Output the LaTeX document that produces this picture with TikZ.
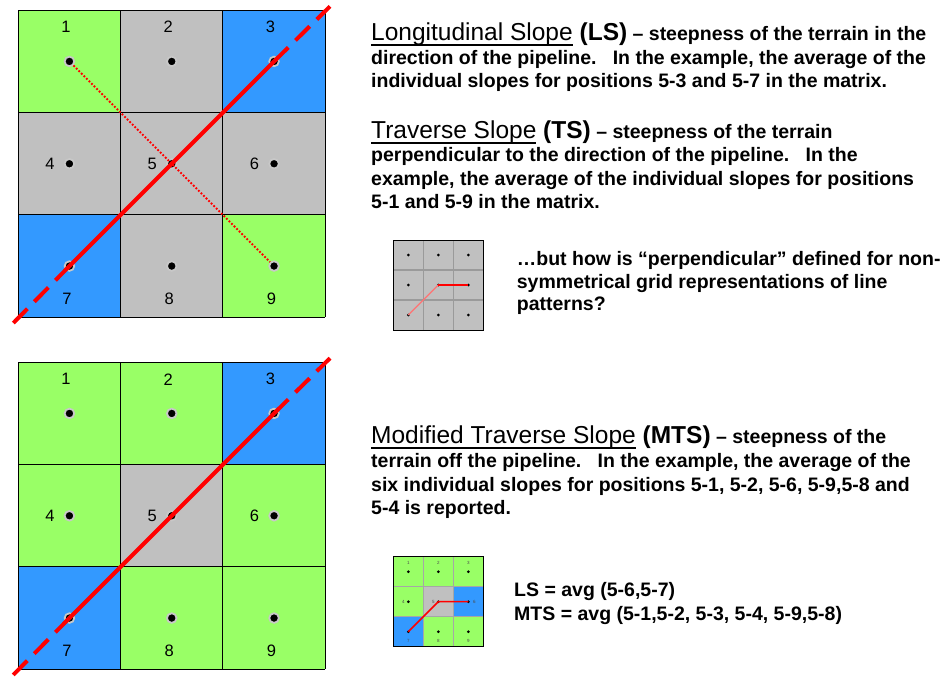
\documentclass[tikz,border=0pt]{standalone}
\usepackage{fontspec}
\setmainfont{Liberation Sans}
\definecolor{cgreen}{HTML}{99FF66}
\definecolor{cgray}{HTML}{C0C0C0}
\definecolor{cblue}{HTML}{3399FF}
\definecolor{chalo}{HTML}{C8C8C8}
\definecolor{cred}{HTML}{FF0000}
\definecolor{cline}{HTML}{9A9A9A}
\newcommand\ulbox[1]{\setbox0\hbox{#1}\rlap{\rule[-5.5pt]{\wd0}{1.5pt}}\box0\relax}
\newcommand\ttl[2]{{\fontsize{24.5}{26}\selectfont\mdseries\ulbox{#1} \bfseries(#2)}}
\begin{document}
\begin{tikzpicture}[x=1pt,y=-1pt,
  body/.style={anchor=base west, inner sep=0pt, font=\fontsize{19.5}{22}\selectfont\bfseries},
  cellnum/.style={inner sep=0pt, font=\fontsize{16.5}{18}\selectfont},
  tinynum/.style={inner sep=0pt, font=\fontsize{4.5}{5}\selectfont, text=black!70},
  dot/.style={circle, fill=black, draw=chalo, line width=1.8pt, minimum size=9.6pt, inner sep=0pt},
  sdot/.style={circle, fill=black, minimum size=3pt, inner sep=0pt},
  pipe/.style={cred, line width=4pt},
  pipedash/.style={cred, line width=4pt, dash pattern=on 20pt off 10pt},
  trav/.style={cred, line width=2pt, dash pattern=on 1.8pt off 1.8pt},
  gridline/.style={black, line width=1pt},
  sline/.style={cred, line width=1.3pt},
]
\useasboundingbox[fill=white] (0,0) rectangle (950,677);

% ---------------- top big grid ----------------
\foreach \c [count=\i from 0] in {cgreen,cgray,cblue,cgray,cgray,cgray,cblue,cgray,cgreen}{
  \pgfmathtruncatemacro\cc{mod(\i,3)}
  \pgfmathtruncatemacro\rr{\i/3}
  \fill[\c] ({18.3+\cc*102.3},{10.3+\rr*102.3}) rectangle ++(102.3,102.3);
}
\foreach \k in {0,1,2,3}{
  \draw[gridline] ({18.3+\k*102.3},10.3) -- ++(0,306.9);
  \draw[gridline] (18.3,{10.3+\k*102.3}) -- ++(306.9,0);
}
\foreach \i in {1,...,9}{
  \pgfmathtruncatemacro\cc{mod(\i-1,3)}
  \pgfmathtruncatemacro\rr{(\i-1)/3}
  \node[dot] (t\i) at ({69.45+\cc*102.3},{61.45+\rr*102.3}) {};
}
\foreach \i in {1,2,3}{\node[cellnum] (tl\i) at ([shift={(-3.5,-34.8)}]t\i.center) {\i};}
\foreach \i in {4,5,6}{\node[cellnum] (tl\i) at ([shift={(-19.5,0)}]t\i.center) {\i};}
\foreach \i in {7,8,9}{\node[cellnum] (tl\i) at ([shift={(-2.5,32.5)}]t\i.center) {\i};}
\coordinate (tne) at (330,6.4);
\coordinate (tsw) at (10,326.4);
\draw[trav] (t1) -- (t9);
\draw[pipe] (t7.center) -- (t3.center);
\draw[pipedash] (t3.center) -- (tne);
\draw[pipedash] (t7.center) -- (tsw);

% ---------------- bottom big grid ----------------
\foreach \c [count=\i from 0] in {cgreen,cgreen,cblue,cgreen,cgray,cgreen,cblue,cgreen,cgreen}{
  \pgfmathtruncatemacro\cc{mod(\i,3)}
  \pgfmathtruncatemacro\rr{\i/3}
  \fill[\c] ({18.3+\cc*102.3},{362.3+\rr*102.3}) rectangle ++(102.3,102.3);
}
\foreach \k in {0,1,2,3}{
  \draw[gridline] ({18.3+\k*102.3},362.3) -- ++(0,306.9);
  \draw[gridline] (18.3,{362.3+\k*102.3}) -- ++(306.9,0);
}
\foreach \i in {1,...,9}{
  \pgfmathtruncatemacro\cc{mod(\i-1,3)}
  \pgfmathtruncatemacro\rr{(\i-1)/3}
  \node[dot] (b\i) at ({69.45+\cc*102.3},{413.45+\rr*102.3}) {};
}
\foreach \i in {1,2,3}{\node[cellnum] (bl\i) at ([shift={(-3.5,-34.2)}]b\i.center) {\i};}
\foreach \i in {4,5,6}{\node[cellnum] (bl\i) at ([shift={(-19.5,0)}]b\i.center) {\i};}
\foreach \i in {7,8,9}{\node[cellnum] (bl\i) at ([shift={(-2.5,33)}]b\i.center) {\i};}
\coordinate (bne) at (330,358.2);
\coordinate (bsw) at (10,678.2);
\draw[pipe] (b7.center) -- (b3.center);
\draw[pipedash] (b3.center) -- (bne);
\draw[pipedash] (b7.center) -- (bsw);

% ---------------- top small grid ----------------
\fill[cgray] (393.3,240) rectangle ++(90,90);
\foreach \k in {1,2}{
  \draw[cline, line width=1.3pt] ({393.3+\k*30},240) -- ++(0,90);
  \draw[cline, line width=1.3pt] (393.3,{240+\k*30}) -- ++(90,0);
}
\draw[black, line width=1pt] (393.3,240) rectangle ++(90,90);
\foreach \i in {1,...,9}{
  \pgfmathtruncatemacro\cc{mod(\i-1,3)}
  \pgfmathtruncatemacro\rr{(\i-1)/3}
  \node[sdot] (s\i) at ({408.3+\cc*30},{255+\rr*30}) {};
}
\draw[sline, draw=cred!55] (s7.center) -- (s5.center);
\draw[sline] (s5.center) -- (s6.center);

% ---------------- bottom small grid ----------------
\foreach \c [count=\i from 0] in {cgreen,cgreen,cgreen,cgreen,cgray,cblue,cblue,cgreen,cgreen}{
  \pgfmathtruncatemacro\cc{mod(\i,3)}
  \pgfmathtruncatemacro\rr{\i/3}
  \fill[\c] ({393.3+\cc*30},{556.7+\rr*30}) rectangle ++(30,30);
}
\foreach \k in {1,2}{
  \draw[black!35, line width=1pt] ({393.3+\k*30},556.7) -- ++(0,90);
  \draw[black!35, line width=1pt] (393.3,{556.7+\k*30}) -- ++(90,0);
}
\draw[black, line width=1pt] (393.3,556.7) rectangle ++(90,90);
\foreach \i in {1,...,9}{
  \pgfmathtruncatemacro\cc{mod(\i-1,3)}
  \pgfmathtruncatemacro\rr{(\i-1)/3}
  \node[sdot] (u\i) at ({408.3+\cc*30},{571.7+\rr*30}) {};
}
\foreach \i in {1,2,3}{\node[tinynum] (ul\i) at ([shift={(0,-9)}]u\i.center) {\i};}
\node[tinynum] (ul4) at ([shift={(-5,0)}]u4.center) {4};
\node[tinynum] (ul5) at ([shift={(-5,0)}]u5.center) {5};
\node[tinynum] (ul6) at ([shift={(6,0)}]u6.center) {6};
\foreach \i in {7,8,9}{\node[tinynum] (ul\i) at ([shift={(0,9)}]u\i.center) {\i};}
\draw[sline, line width=1.5pt] (u7.center) -- (u5.center) -- (u6.center);

% ---------------- texts ----------------
\node[body] (ls1) at (371,40.5) {\ttl{Longitudinal Slope}{LS} – steepness of the terrain in the};
\node[body] (ls2) at (371,64) {direction of the pipeline.~~~In the example, the average of the};
\node[body] (ls3) at (371,87.3) {individual slopes for positions 5-3 and 5-7 in the matrix.};

\node[body] (ts1) at (371,138) {\ttl{Traverse Slope}{TS} – steepness of the terrain};
\node[body] (ts2) at (371,161.5) {perpendicular to the direction of the pipeline.~~~In the};
\node[body] (ts3) at (371,185) {example, the average of the individual slopes for positions};
\node[body] (ts4) at (371,208.3) {5-1 and 5-9 in the matrix.};

\node[body] (q1) at (516.7,265) {…but how is “perpendicular” defined for non-};
\node[body] (q2) at (516.7,288.3) {symmetrical grid representations of line};
\node[body] (q3) at (516.7,310.7) {patterns?};

\node[body] (m1) at (371,443.3) {\ttl{Modified Traverse Slope}{MTS} – steepness of the};
\node[body] (m2) at (371,467.5) {terrain off the pipeline.~~~In the example, the average of the};
\node[body] (m3) at (371,491) {six individual slopes for positions 5-1, 5-2, 5-6, 5-9,5-8 and};
\node[body] (m4) at (371,514.5) {5-4 is reported.};

\node[body] (f1) at (514,596.5) {LS = avg (5-6,5-7)};
\node[body] (f2) at (514,620) {MTS = avg (5-1,5-2, 5-3, 5-4, 5-9,5-8)};
\end{tikzpicture}
\end{document}
